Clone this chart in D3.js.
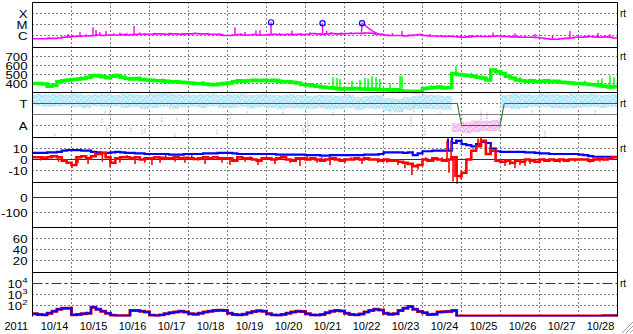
<!DOCTYPE html>
<html><head><meta charset="utf-8">
<script src="https://cdn.jsdelivr.net/npm/d3@7/dist/d3.min.js"></script>
<style>
body{margin:0;background:#fff}
svg{display:block}
text{font-family:"Liberation Sans",Arial,sans-serif;fill:#000}
</style></head>
<body><svg id="chart" width="633" height="334"></svg>
<script>
// ---------------- DATA ----------------
const yearLabel = "2011";
const dayLabels = ["10/14","10/15","10/16","10/17","10/18","10/19","10/20","10/21","10/22","10/23","10/24","10/25","10/26","10/27","10/28"];

// Panel 1: X-ray flux (units of 1e-6 W/m2), 3-hour steps
const xrayBase = [
 [0.5,0.5,0.5,0.55,0.55,0.6,0.7,0.75],[0.8,0.85,0.9,0.9,1.0,1.1,1.0,1.1],
 [1.1,1.1,1.2,1.1,1.2,1.3,1.3,1.3],[1.3,1.4,1.4,1.3,1.4,1.4,1.3,1.4],
 [1.4,1.5,1.4,1.4,1.3,1.3,1.2,1.0],[1.0,1.1,1.2,1.1,1.1,1.2,1.1,1.1],
 [1.2,1.3,1.2,1.2,1.3,1.2,1.3,1.2],[1.3,1.5,1.4,1.3,1.4,1.5,1.4,1.4],
 [1.5,1.5,1.6,1.5,1.7,1.6,1.4,1.3],[1.1,1.0,1.0,1.0,0.9,1.0,1.1,1.2],
 [1.0,0.9,0.9,0.85,0.8,0.85,0.8,0.75],[0.7,0.75,0.8,0.85,0.8,0.8,0.85,0.9],
 [0.8,0.8,0.75,0.75,0.7,0.7,0.7,0.65],[0.6,0.5,0.45,0.45,0.5,0.55,0.6,0.7],
 [0.7,0.75,0.8,0.75,0.7,0.75,0.7,0.6]].flat();
// spikes: [hour, peak]
const xraySpikes = [[10,0.7],[18,0.8],[21.8,1.4],[25,1.1],[29.2,2.1],[33,1.3],[37.2,5.6],[39.1,3.2],[41.5,2.1],[45.2,2.6],[50,1.6],[53.8,1.9],
 [58,1.7],[62.5,7.3],[66,1.9],[69.2,1.7],[75,1.8],[84.6,1.9],[92,1.8],[100,1.9],[108,1.8],[115,1.6],
 [124.6,5.6],[128,1.6],[130.8,2.1],[137.5,2.9],[140,3.2],[146.8,15.7],[152,1.7],[159.7,2.9],[165,1.7],[170.8,1.9],[178.5,12.8],[181,2.9],[184,2.1],
 [190,2.0],[196,2.1],[215,1.4],[221.5,1.7],[227.4,2.6],[232,1.3],[244.6,1.4],[252,1.1],[270,1.1],[283.4,1.85],[290,1.1],[296.9,1.6],[303,1.0],
 [309.2,1.4],[320,0.9],[330.8,2.6],[336,1.0],[342,1.1],[348,1.7],[355.4,1.3]];
const flareDecay = [[202.4,1.6],[202.8,12.8],[204.6,9],[206.5,4.9],[209,2.6],[211.4,1.7],[212.5,1.4]];
const flareMarks = [[146.8,15.7],[178.5,12.8],[202.8,12.8]];

// Panel 2: solar wind speed (km/s), 3-hour steps
const speed = [
 [400,400,395,370,380,420,430,440],[445,450,455,470,485,490,475,465],
 [480,490,470,455,450,455,445,440],[435,430,430,425,420,420,415,410],
 [405,400,400,395,390,385,395,400],[405,420,430,425,430,435,430,435],
 [430,435,425,420,420,415,405,390],[385,375,370,360,355,350,345,340],
 [345,340,345,340,335,340,335,330],[330,325,330,320,315,315,310,315],
 [345,350,355,360,350,355,510,500],[495,490,480,470,460,440,550,530],
 [510,480,460,440,430,425,430,420],[425,430,420,425,415,410,405,400],
 [400,395,390,385,375,370,360,365]].flat();
const speedSpikes = [[9,360],[15,370],[30,480],[44,500],[52,510],[66,480],[80,455],[105,425],[120,375],[128,445],[140,450],[152,455],
 [184.9,470],[187.4,460],[189.2,450],[196.6,430],[201.5,440],[204.6,460],[206.5,455],[208.9,480],[211.4,470],[213.8,450],
 [220,400],[226.2,490],[227.4,480],[245,380],[260.6,590],[270,520],[300,470],[320,445],[340,430],[348,440],[350.5,455],[355.4,490],[357.8,470]];

// Panel 3: status (T=2, A=0) and scatter ranges
const statusHours = [0,261.4,264.1,287.7,290.3,360];
const statusVals  = [2,2,0,0,2,2];
// light-blue range, 6-hour steps (null = no data)
const cyanHi = [
 [2.9,2.85,2.9,2.8],[2.9,2.8,2.85,2.9],[2.8,2.9,2.85,2.8],[2.9,2.95,2.9,2.85],[2.8,2.85,2.9,2.8],
 [2.85,2.9,2.8,2.85],[2.8,2.75,2.85,2.8],[2.7,2.8,2.75,2.7],[2.8,2.6,2.7,2.75],[2.5,2.4,2.6,2.7],
 [2.8,2.75,2.7,2.6],[null,null,null,null],[2.8,2.9,2.85,2.8],[2.9,2.85,2.8,2.9],[2.85,2.9,2.8,2.85]].flat();
const cyanLo = [
 [1.8,1.7,1.75,1.8],[1.7,1.6,1.75,1.7],[1.75,1.6,1.7,1.5],[1.6,1.7,1.5,1.65],[1.7,1.6,1.75,1.6],
 [1.6,1.7,1.55,1.65],[1.6,1.5,1.6,1.55],[1.5,1.6,1.45,1.5],[1.6,1.4,1.55,1.5],[1.3,1.2,1.4,1.5],
 [1.5,1.45,1.4,1.6],[null,null,null,null],[1.6,1.5,1.6,1.7],[1.7,1.6,1.55,1.6],[1.65,1.7,1.6,1.7]].flat();
const pinkHours = [258,264,270,276,282,288];
const pinkHi = [0.2,0.3,0.45,0.4,0.5,0.6];
const pinkLo = [-0.6,-0.7,-0.6,-0.5,-0.5,-0.2];
// isolated marks: [hour, lo, hi]
const pinkMarks = [[24.1,-0.58,-0.13],[42.8,0.21,0.66],[45.7,-0.6,-0.15],[60.6,-0.6,-0.15],[67.4,-0.8,-0.25],[69.2,-0.7,-0.25],
 [79.5,0.3,0.75],[88.7,0.48,0.75],[121.5,0.3,0.94],[166.5,-0.7,-0.15],[169.5,-0.7,0.48],[210.8,0.03,0.33],[233,-0.13,0.94]];
const grayMarks = [[13.8,-0.97,-0.7],[44.6,1.12,1.39],[47.7,1.03,1.39],[87.7,-1.06,-0.7],[113.5,-0.8,-0.43],[132,1.12,1.39],
 [154,1.03,1.39],[168.3,1.12,1.39],[185,0.85,1.21],[220,0.94,1.39],[227.4,1.21,1.57],[234.8,1.21,2.3],[241.5,-0.88,-0.25],
 [250.8,1.12,1.39],[276,0.48,1.39],[279.7,0.3,1.21],[307.4,0.94,1.39],[315.4,-1.06,-0.43],[346.2,0.94,1.39]];

// Panel 4: IMF Bt (blue) and Bz (red), nT, 3-hour steps
const bt = [
 [6,6,6,6.5,6.5,7,8,8.5],[8.5,8.5,8,8,7,6.5,6,6],[6.5,7,6.5,6,6,5.5,5.5,5],[5,5,5,5,4.5,4.5,4.5,5],
 [5,5,5,5.5,5.5,5.5,6,6],[6,5.5,5,5,5,5,5,5],[5,5,4.5,4.5,4.5,4.5,4.5,4.5],[4,4,4,3.5,3.5,4,4,4],
 [4,4,4,4,4.5,4.5,4.5,5],[6.5,6.5,6.5,6.5,6,6.5,4,5.5],[7.5,7.5,8,8,8,8,15,17],[14,13,12,14,16,15,10,7.5],
 [7,7,7,7,7,6.5,6.5,6],[5.5,5.5,5,5,5,5,5,5],[4.5,4,3,2.5,2.5,2.5,2.5,2.5]].flat();
const btSpikes = [[255.7,19],[258.2,19.5],[260.6,18],[263.1,16]];
const bz = [
 [2,2,1.5,2,3,2,-1,-3],[-5,2,3,1,3,5,6,2],[-3,1,2,2,1,2,0,1],[1,2,1.5,1,1,2,1,1.5],
 [1,0.5,1,2,1,2,1,1],[1,-1,2,1,1,0,-1,1],[1,0,1,2,0,-1,1,1],[0,1,0,-1,0,1,0,-1],
 [0,0,1,0,1,0,0,-1],[0,-1,-1,-2,-3,-4,-6,-5],[0,-1,1,0,-1,0,2,-15],[-12,0,8,12,17,5,8,-1],
 [-2,-1,-3,-1,-2,0,-1,-2],[0,-1,0,-1,0,-1,0,0],[0,0,-1,0,1,0,1,2]].flat();
const bzSpikes = [[5,-1],[11,4],[16,-2],[24.3,-8],[28,-3],[34.2,-4],[38.5,7],[43,-2],[47.7,-7],[53.8,-3],[58,4],[63.1,-4],[69.2,-3],[73.5,-5],[78.5,-3],[82,4],[87.7,-2],
 [93.8,-3],[98,4],[102,-1],[106.2,-4],[111,3],[116.6,-3],[121.5,-5],[126,3],[130.8,-2],[134,3],[138.8,-5],[144,3],[149.2,-4],[154,3],[158.5,-3],[164.6,-6],[169,3],[175.1,-3],[178,2],[183.1,-5],
 [187,2],[192.3,-3],[196,2],[202.8,-4],[206,2],[212.6,-3],[218,-3],[224.9,-5],[229.2,-8],[233.5,-14],[237.2,-9],[242,2],[247,-2],[252,2],[255.1,17],[256.3,-12],[257.6,18],[258.8,-20],
 [260,-16],[261.3,-22],[262.5,-14],[263.7,-18],[264.9,-12],[274.2,19],[276,20],[279.1,16],[281.6,12],[284.6,8],[290.8,-6],
 [293.8,-5],[296.9,-8],[300,-5],[303.1,-6],[306.2,-4],[309,1],[312.3,-3],[315,1],[318.5,-2],[321,1],[324.6,-3],[330,1],[333.8,-2],[338,1],[343.1,-3],[346,1],[349.2,-2],[354,2]];

// Panel 7: energetic electron flux, 3-hour steps
const electrons = [
 [18,15,14,20,30,45,55,55],[14,15,18,20,70,45,30,20],[13,12,12,12,35,35,30,25],[13,12,14,18,22,26,30,25],
 [18,16,20,25,30,35,37,35],[20,15,14,16,22,28,33,30],[18,14,13,15,20,26,30,28],[18,14,13,15,22,30,35,32],
 [20,15,14,17,25,35,45,40],[20,16,18,35,55,80,45,28],[22,15,16,25,27,28,35,11],[11,11,11,11,11,11,11,11],
 [11,11,11,11,11,11,11,11],[11,11,11,11,11,11,11,11],[11,11,11,11,11,12,12,12]].flat();

// tick labels
const xrayTicks = [{v:100,t:"X"},{v:10,t:"M"},{v:1,t:"C"}];
const speedTicks = [700,600,500,400];
const statusTicks = [{v:2,t:"T"},{v:0,t:"A"}];
const bTicks = [10,0,-10];
const dstTicks = [0,-100];
const p6Ticks = [60,40,20];
const eTicks = [4,3,2];

// ---------------- DRAW ----------------
const svg = d3.select("#chart");
const T0 = Date.UTC(2011,9,14);
const hr = h => new Date(T0 + h*3600000);
const x = d3.scaleUtc().domain([hr(0), hr(360)]).range([32.5, 617.5]);
const L = 32.5, R = 617.5;
const panelTops = [2.5,47.5,92.5,137.5,182.5,227.5,272.5];
const plotBottom = 316.5;

const yX = d3.scaleLog().domain([1,100]).range([35.5,13.5]);
const yS = d3.scaleLinear().domain([400,700]).range([83.5,56.5]);
const yT = d3.scaleLinear().domain([0,2]).range([125.5,103.5]);
const yB = d3.scaleLinear().domain([-10,10]).range([170.5,148.5]);
const yD = d3.scaleLinear().domain([-100,0]).range([212.5,197.5]);
const y6 = d3.scaleLinear().domain([20,60]).range([260.5,238.5]);
const yE = d3.scaleLog().domain([100,10000]).range([305.5,283.5]);

const defs = svg.append("defs");
defs.append("clipPath").attr("id","plotclip")
  .append("rect").attr("x",L).attr("y",2.5).attr("width",R-L).attr("height",plotBottom-2.5);
// speckle texture for scatter clouds: solid colour with a few white holes
function speckle(id, col){
  const p = defs.append("pattern").attr("id",id).attr("patternUnits","userSpaceOnUse").attr("width",7).attr("height",5);
  p.append("rect").attr("width",7).attr("height",5).attr("fill",col);
  [[1,0],[4,1],[6,3],[2,3],[0,4],[5,4],[3,2]].forEach(([a,b])=>
    p.append("rect").attr("x",a).attr("y",b).attr("width",1).attr("height",1).attr("fill","#fff"));
}
speckle("cyanSpk","#b2e6fb");
speckle("pinkSpk","#f6b8f0");

const grid = svg.append("g");
const data = svg.append("g").attr("clip-path","url(#plotclip)");
const frame = svg.append("g");
const labels = svg.append("g");

function hgrid(y){ grid.append("line").attr("x1",L).attr("x2",R).attr("y1",y).attr("y2",y)
   .attr("stroke","#000").attr("stroke-dasharray","1,3"); }
function ylab(y,t){
  return labels.append("text").attr("transform",`translate(27.5,${y+4})scale(1.2,1)`)
   .attr("text-anchor","end").attr("font-size",11).text(t); }

// vertical day grid
d3.range(1,15).forEach(d=>{
  const xx = x(hr(d*24));
  grid.append("line").attr("x1",xx).attr("x2",xx).attr("y1",2.5).attr("y2",plotBottom)
   .attr("stroke","#000").attr("stroke-dasharray","1,3");
});

// horizontal grid + tick labels
xrayTicks.forEach(d=>{ hgrid(yX(d.v)); ylab(yX(d.v),d.t); });
speedTicks.forEach(v=>{ hgrid(yS(v)); ylab(yS(v),v); });
statusTicks.forEach(d=>{ hgrid(yT(d.v)); ylab(yT(d.v),d.t); });
bTicks.forEach(v=>{ if(v!==0) hgrid(yB(v)); ylab(yB(v),v); });
dstTicks.forEach(v=>{ if(v!==0) hgrid(yD(v)); ylab(yD(v),v); });
p6Ticks.forEach(v=>{ hgrid(y6(v)); ylab(y6(v),v); });
eTicks.forEach(p=>{
  const yy = yE(Math.pow(10,p));
  if(p!==4) hgrid(yy);
  const t = labels.append("text").attr("transform",`translate(27.5,${yy+4})scale(1.2,1)`).attr("text-anchor","end").attr("font-size",11);
  t.append("tspan").text("10");
  t.append("tspan").attr("dy",-5).attr("font-size",8).text(p);
});

// ---- panel 1
const stepPts = (arr,step)=> arr.map((v,i)=>[i*step,v]).concat([[360,arr[arr.length-1]]]);
const line = (ys)=> d3.line().x(d=>x(hr(d[0]))).y(d=>ys(d[1])).curve(d3.curveStepAfter);
data.append("path").attr("d", line(yX)(stepPts(xrayBase,3))).attr("fill","none").attr("stroke","#ff00ff").attr("stroke-width",1.6);
xraySpikes.forEach(([h,v])=>{
  const b = xrayBase[Math.min(xrayBase.length-1,Math.floor(h/3))];
  data.append("line").attr("x1",x(hr(h))).attr("x2",x(hr(h))).attr("y1",yX(b)).attr("y2",yX(v)).attr("stroke","#ff00ff").attr("stroke-width",1.4);
});
data.append("path").attr("d", d3.line().x(d=>x(hr(d[0]))).y(d=>yX(d[1]))(flareDecay)).attr("fill","none").attr("stroke","#ff00ff").attr("stroke-width",1.4);
flareMarks.forEach(([h,v])=>{
  data.append("circle").attr("cx",x(hr(h))).attr("cy",yX(v)).attr("r",2.6).attr("fill","none").attr("stroke","#0000ff").attr("stroke-width",1.2);
});

// ---- panel 2
data.append("path").attr("d", line(yS)(stepPts(speed,3))).attr("fill","none").attr("stroke","#00ff00").attr("stroke-width",3.5);
speedSpikes.forEach(([h,v])=>{
  const b = speed[Math.floor(h/3)];
  data.append("line").attr("x1",x(hr(h))).attr("x2",x(hr(h))).attr("y1",yS(b)).attr("y2",yS(v)).attr("stroke","#00ff00").attr("stroke-width",1.5);
});

// ---- panel 3
const band = d3.area().defined(d=>d[1]!==null).x(d=>x(hr(d[0]))).y0(d=>yT(d[2])).y1(d=>yT(d[1])).curve(d3.curveStepAfter);
const cyanPts = cyanHi.map((v,i)=>[i*6,v,cyanLo[i]]).concat([[360,cyanHi[cyanHi.length-1],cyanLo[cyanLo.length-1]]]);
data.append("path").attr("d",band(cyanPts)).attr("fill","url(#cyanSpk)");
const pinkPts = pinkHours.map((h,i)=>[h,pinkHi[i],pinkLo[i]]);
data.append("path").attr("d",band(pinkPts)).attr("fill","url(#pinkSpk)");
pinkMarks.forEach(([h,lo,hi])=>data.append("line").attr("x1",x(hr(h))).attr("x2",x(hr(h))).attr("y1",yT(lo)).attr("y2",yT(hi)).attr("stroke","#f5b0ef").attr("stroke-width",1.3).attr("stroke-dasharray","2,1"));
grayMarks.forEach(([h,lo,hi])=>data.append("line").attr("x1",x(hr(h))).attr("x2",x(hr(h))).attr("y1",yT(lo)).attr("y2",yT(hi)).attr("stroke","#c8c8c8").attr("stroke-width",1.3).attr("stroke-dasharray","2,1"));
data.append("line").attr("x1",L).attr("x2",R).attr("y1",yT(1)).attr("y2",yT(1)).attr("stroke","#808080").attr("stroke-width",1.2);
for(let i=0;i<statusHours.length-1;i++){
  const v0=statusVals[i], v1=statusVals[i+1];
  const col = v0!==v1 ? "#3a7d3a" : (v0===2 ? "#3050ee" : "#e02020");
  data.append("line").attr("x1",x(hr(statusHours[i]))).attr("x2",x(hr(statusHours[i+1])))
    .attr("y1",yT(v0)).attr("y2",yT(v1)).attr("stroke",col).attr("stroke-width",1.2);
}

// ---- panel 4
grid.append("line").attr("x1",L).attr("x2",R).attr("y1",yB(0)).attr("y2",yB(0)).attr("stroke","#a00000").attr("stroke-width",1.2);
data.append("path").attr("d", line(yB)(stepPts(bt,3))).attr("fill","none").attr("stroke","#0000ff").attr("stroke-width",2.2);
btSpikes.forEach(([h,v])=>{
  const b = bt[Math.floor(h/3)];
  data.append("line").attr("x1",x(hr(h))).attr("x2",x(hr(h))).attr("y1",yB(b)).attr("y2",yB(v)).attr("stroke","#0000ff").attr("stroke-width",2);
});
data.append("path").attr("d", line(yB)(stepPts(bz,3))).attr("fill","none").attr("stroke","#ff0000").attr("stroke-width",2.6);
bzSpikes.forEach(([h,v])=>{
  const b = bz[Math.floor(h/3)];
  data.append("line").attr("x1",x(hr(h))).attr("x2",x(hr(h))).attr("y1",yB(b)).attr("y2",yB(v)).attr("stroke","#ff0000").attr("stroke-width",1.6);
});

// ---- panel 5
grid.append("line").attr("x1",L).attr("x2",R).attr("y1",yD(0)).attr("y2",yD(0)).attr("stroke","#a00000").attr("stroke-width",1.2);

// ---- panel 7
grid.append("line").attr("x1",L).attr("x2",R).attr("y1",yE(1e4)).attr("y2",yE(1e4)).attr("stroke","#a00000").attr("stroke-width",1.2).attr("stroke-dasharray","10,3,3,3");
data.append("path").attr("d", line(yE)(stepPts(electrons,3))).attr("fill","none").attr("stroke","#ff0000").attr("stroke-width",3);
data.append("path").attr("d", line(yE)(stepPts(electrons,3))).attr("fill","none").attr("stroke","#0000ff").attr("stroke-width",2);

// ---- frame
panelTops.forEach(y=>frame.append("line").attr("x1",L).attr("x2",R).attr("y1",y).attr("y2",y).attr("stroke","#000"));
frame.append("line").attr("x1",L).attr("x2",L).attr("y1",2.5).attr("y2",plotBottom).attr("stroke","#000");
frame.append("line").attr("x1",R).attr("x2",R).attr("y1",2.5).attr("y2",plotBottom).attr("stroke","#000");

// right "rt" markers
[yX(100), yS(700), yT(2), yB(10), yE(1e4)].forEach(y=>{
  labels.append("text").attr("x",620).attr("y",y+3.5).attr("font-size",10).text("rt");
});

// x axis labels
labels.append("text").attr("x",4.5).attr("y",329.5).attr("font-size",11).text(yearLabel);
dayLabels.forEach((t,i)=>{
  labels.append("text").attr("x",x(hr(i*24+12))+2.5).attr("y",329.5).attr("text-anchor","middle").attr("font-size",11).text(t);
});

// resize grip
[[633,322,622,333],[633,326,626,333],[633,330,630,333]].forEach(([a,b,c,d])=>{
  frame.append("line").attr("x1",a).attr("y1",b).attr("x2",c).attr("y2",d).attr("stroke","#999").attr("stroke-width",1);
});
</script>
</body></html>
